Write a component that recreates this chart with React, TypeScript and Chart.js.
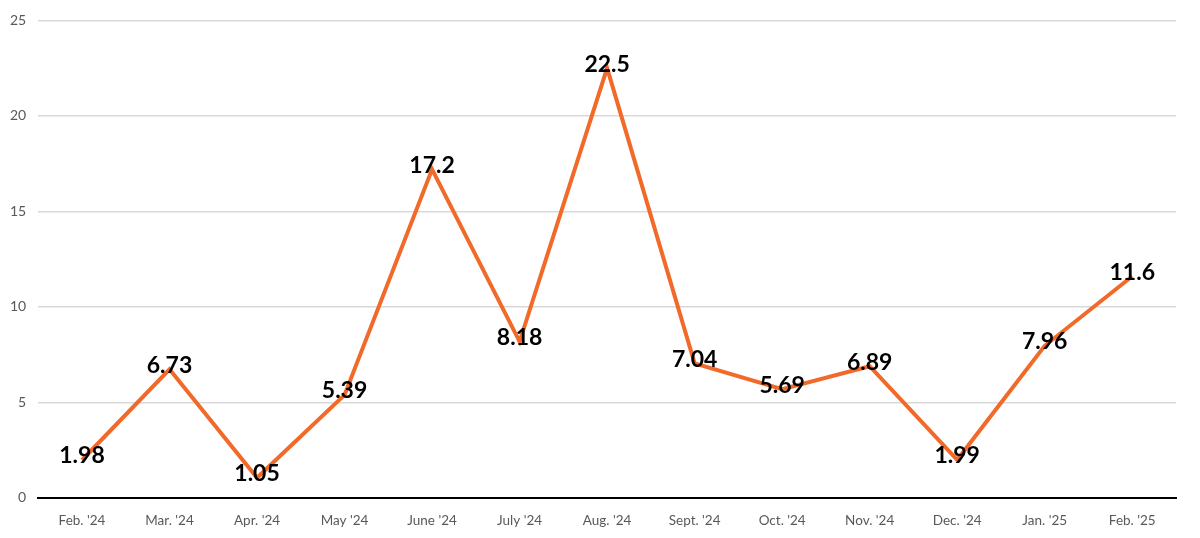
import React, { useEffect, useRef } from 'react';
import { Chart, registerables } from 'chart.js';

Chart.register(...registerables);

const months = ["Feb. '24", "Mar. '24", "Apr. '24", "May '24", "June '24", "July '24", "Aug. '24", "Sept. '24", "Oct. '24", "Nov. '24", "Dec. '24", "Jan. '25", "Feb. '25"];
const values = [1.98, 6.73, 1.05, 5.39, 17.2, 8.18, 22.5, 7.04, 5.69, 6.89, 1.99, 7.96, 11.6];
const yTicks = [0, 5, 10, 15, 20, 25];

// draws the bold value labels on top of the points
const valueLabels = {
    id: 'valueLabels',
    afterDatasetsDraw(chart: Chart) {
        const ctx = chart.ctx;
        const meta = chart.getDatasetMeta(0);
        ctx.save();
        ctx.font = 'bold 23px Lato, "Open Sans", sans-serif';
        ctx.fillStyle = '#000';
        ctx.textAlign = 'center';
        ctx.textBaseline = 'middle';
        meta.data.forEach((pt, i) => {
            ctx.fillText(String(values[i]), pt.x, pt.y - 4);
        });
        ctx.restore();
    },
};

function LineChart() {
    const chartRef = useRef<HTMLCanvasElement | null>(null);
    const chartInstance = useRef<Chart | null>(null);

    useEffect(() => {
        if (!chartRef.current) return;
        if (chartInstance.current) chartInstance.current.destroy();
        const ctx = chartRef.current.getContext('2d');
        if (!ctx) return;
        chartInstance.current = new Chart(ctx, {
            type: 'line',
            data: {
                labels: months,
                datasets: [{
                    data: values,
                    borderColor: '#F26A2A',
                    borderWidth: 4,
                    pointRadius: 0,
                    tension: 0,
                    fill: false,
                }],
            },
            options: {
                animation: false,
                responsive: true,
                maintainAspectRatio: false,
                layout: { padding: { left: -2, right: 24, top: 5, bottom: 2 } },
                plugins: { legend: { display: false }, tooltip: { enabled: false } },
                scales: {
                    x: {
                        offset: true,
                        grid: { display: false },
                        border: { display: true, color: '#000', width: 2 },
                        ticks: { color: '#595959', font: { family: 'Lato, "Open Sans", sans-serif', size: 13.5 }, padding: 7, maxRotation: 0 },
                    },
                    y: {
                        min: yTicks[0],
                        max: yTicks[yTicks.length - 1],
                        afterBuildTicks: (axis) => { axis.ticks = yTicks.map(v => ({ value: v })); },
                        grid: { color: '#d9d9d9', lineWidth: 1.5, drawTicks: false },
                        border: { display: false },
                        ticks: { color: '#595959', font: { family: 'Lato, "Open Sans", sans-serif', size: 14 }, padding: 12 },
                    },
                },
            },
            plugins: [valueLabels],
        });
        return () => {
            if (chartInstance.current) {
                chartInstance.current.destroy();
                chartInstance.current = null;
            }
        };
    }, []);

    return <canvas ref={chartRef} />;
}

export default function App() {
    return (
        <div style={{ position: 'absolute', left: 0, top: 0, width: 1200, height: 538, background: '#fff' }}>
            <LineChart />
        </div>
    );
}
